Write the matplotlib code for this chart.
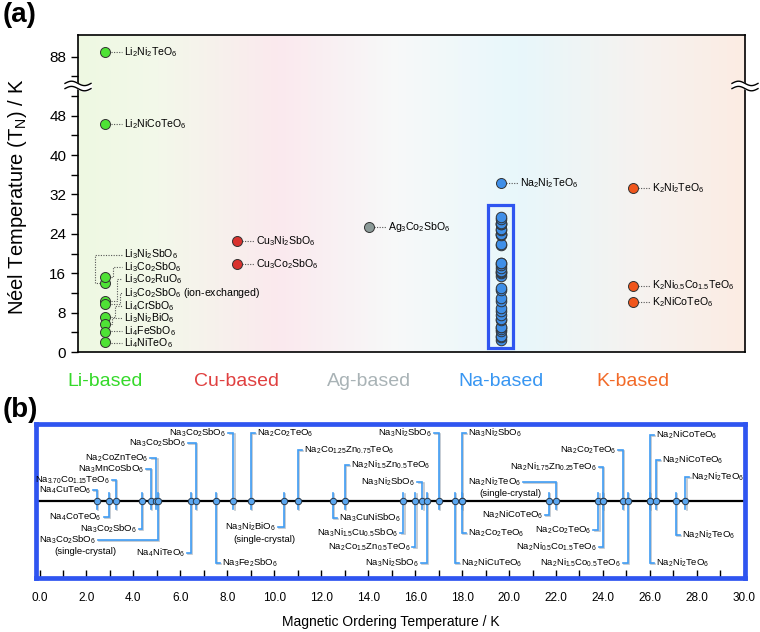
import re
import numpy as np
import matplotlib
matplotlib.use('Agg')
import matplotlib.pyplot as plt
import matplotlib.patheffects as pe
from matplotlib.colors import LinearSegmentedColormap
from matplotlib.patches import Rectangle

plt.rcParams['font.family'] = ['Liberation Sans', 'DejaVu Sans']
plt.rcParams['mathtext.fontset'] = 'custom'
plt.rcParams['mathtext.rm'] = 'Liberation Sans'
plt.rcParams['mathtext.it'] = 'Liberation Sans:italic'
plt.rcParams['mathtext.bf'] = 'Liberation Sans:bold'

# ---- panel (a) data ----
groups = ['Li-based', 'Cu-based', 'Ag-based', 'Na-based', 'K-based']
group_colors = ['#35d92a', '#e04040', '#a9b3b6', '#3896f2', '#f26a28']
dot_colors = ['#4ee235', '#d9322e', '#8c9a98', '#3f8fe8', '#f0561c']

li_names = ['Li2Ni2TeO6', 'Li2NiCoTeO6', 'Li3Ni2SbO6', 'Li3Co2SbO6', 'Li3Co2RuO6',
            'Li3Co2SbO6 (ion-exchanged)', 'Li4CrSbO6', 'Li3Ni2BiO6', 'Li4FeSbO6', 'Li4NiTeO6']
li_tn = [89.0, 46.3, 14.0, 15.2, 10.4, 9.8, 7.2, 5.6, 4.0, 2.1]
cu_names = ['Cu3Ni2SbO6', 'Cu3Co2SbO6']
cu_tn = [22.6, 17.8]
ag_names = ['Ag3Co2SbO6']
ag_tn = [25.3]
na_top_names = ['Na2Ni2TeO6']
na_top_tn = [34.3]
k_names = ['K2Ni2TeO6', 'K2Ni0.5Co1.5TeO6', 'K2NiCoTeO6']
k_tn = [33.3, 13.5, 10.2]

# label placement for the crowded Li cluster (label height, elbow offset in px)
li_label_y = [None, None, 19.8, 17.2, 14.8, 11.9, 9.35, 6.9, 4.2, 1.9]
li_bend_px = [0, 0, -10, 8, 12, 15, 10, 7, 0, 0]

ytick_vals = [0, 8, 16, 24, 32, 40, 48, 88]

# ---- panel (b) data ----
na_names = ['Na4CuTeO6', 'Na4CoTeO6', 'Na3.70Co1.15TeO6', 'Na3Co2SbO6', 'Na3MnCoSbO6',
            'Na2CoZnTeO6', 'Na3Co2SbO6\n(single-crystal)', 'Na4NiTeO6', 'Na3Co2SbO6',
            'Na3Fe2SbO6', 'Na3Co2SbO6', 'Na2Co2TeO6', 'Na3Ni2BiO6\n(single-crystal)',
            'Na2Co1.25Zn0.75TeO6', 'Na3CuNiSbO6', 'Na2Ni1.5Zn0.5TeO6', 'Na3Ni1.5Cu0.5SbO6',
            'Na2Co1.5Zn0.5TeO6', 'Na3Ni2SbO6', 'Na3Ni2SbO6', 'Na3Ni2SbO6', 'Na2NiCuTeO6',
            'Na3Ni2SbO6', 'Na2Co2TeO6', 'Na2NiCoTeO6', 'Na2Ni2TeO6\n(single-crystal)',
            'Na2Co2TeO6', 'Na2Ni1.75Zn0.25TeO6', 'Na2Ni0.5Co1.5TeO6', 'Na2Co2TeO6',
            'Na2Ni1.5Co0.5TeO6', 'Na2NiCoTeO6', 'Na2Ni2TeO6', 'Na2NiCoTeO6', 'Na2Ni2TeO6',
            'Na2Ni2TeO6']
na_tn = [2.45, 2.95, 3.25, 4.35, 4.75, 4.98, 5.05, 6.45, 6.65, 7.5, 8.25, 9.0, 10.4, 11.0,
         12.5, 13.0, 15.5, 16.0, 16.3, 16.5, 17.0, 17.7, 18.0, 18.0, 21.7, 22.0, 23.8, 24.0,
         24.0, 24.85, 25.05, 26.0, 26.0, 26.25, 27.1, 27.5]
# layout: label height (px from the line), side of the bracket, horizontal stub (px)
na_level = [11, -16, 21, -28, 32, 43, -39, -52, 58, -62, 68, 68, -26, 51, -17, 36, -32, -46,
            19, -62, 68, -62, 68, -32, -14, 19, -29, 34, -46, 51, -62, 66, -62, 41, -34, 24]
na_side = 'LLLLLLLLLRLRLRRRLLLLLRRRLLLLLLLRRRRR'
na_stub = [4, 5, 4, 3, 5, 6, 60, 4, 8, 4, 5, 4, 6, 4, 4, 4, 3, 3, 5, 6, 5, 4, 4, 4, 4, 33,
           5, 4, 4, 5, 5, 4, 4, 4, 4, 4]


def chem(s):
    return re.sub(r'(\d+(?:\.\d+)?)', r'$_{\1}$', s)


def pos(v):
    # broken axis: values above the break are shifted down
    return v if v <= 52 else v - 28


fig = plt.figure(figsize=(7.6, 6.32), dpi=100)

# ================= panel (a) =================
ax = fig.add_axes([78 / 760, 1 - 352 / 632, 667 / 760, 317 / 632])
xmin, xmax, ymax = -0.205, 4.85, 64.4
pxx = (xmax - xmin) / 667

bg = LinearSegmentedColormap.from_list('bg', [
    (0.0, '#eef9e2'), (0.12, '#f3f8ea'), (0.30, '#fbe9ee'), (0.48, '#f7f9f9'),
    (0.66, '#e8f7fb'), (0.85, '#f6f2ef'), (1.0, '#fcece3')])
ax.imshow(np.linspace(0, 1, 256)[None, :], extent=[xmin, xmax, 0, ymax], aspect='auto',
          cmap=bg, zorder=0)

leader = dict(color='#555555', lw=0.8, ls=(0, (1, 1.3)), zorder=2)
dot_kw = dict(ms=7.2, mec='#333333', mew=0.7, zorder=4, ls='none', marker='o')
fs_a = 7.6


def simple_points(gx, names, vals, color):
    for n, v in zip(names, vals):
        y = pos(v)
        ax.plot([gx + 5.5 * pxx, gx + 17 * pxx], [y, y], **leader)
        ax.text(gx + 19 * pxx, y, chem(n), fontsize=fs_a, va='center', ha='left', zorder=5)
    ax.plot([gx] * len(vals), [pos(v) for v in vals], mfc=color, **dot_kw)


# Li cluster with elbow leaders
for n, v, ly, b in zip(li_names, li_tn, li_label_y, li_bend_px):
    y = pos(v)
    ly = y if ly is None else ly
    if b == 0:
        xs, ys = [5.5, 17], [y, ly]
    elif b < 0:
        xs, ys = [-5.5, b, b, 17], [y, y, ly, ly]
    else:
        xs, ys = [5.5, b, b, 17], [y, y, ly, ly]
    if b == 0:
        ax.plot([5.5 * pxx, 17 * pxx], [ly, ly], **leader)
    else:
        ax.plot([x * pxx for x in xs], ys, **leader)
    ax.text(19 * pxx, ly, chem(n), fontsize=fs_a, va='center', ha='left', zorder=5)
ax.plot([0] * len(li_tn), [pos(v) for v in li_tn], mfc=dot_colors[0], **dot_kw)

simple_points(1, cu_names, cu_tn, dot_colors[1])
simple_points(2, ag_names, ag_tn, dot_colors[2])
simple_points(3, na_top_names, na_top_tn, dot_colors[3])
simple_points(4, k_names, k_tn, dot_colors[4])

# Na column = all entries of panel (b)
ax.plot([3] * len(na_tn), na_tn, mfc=dot_colors[3], **dict(dot_kw, ms=7.6))
ax.add_patch(Rectangle((3 - 0.095, 0.8), 0.19, 29.0, fill=False, ec='#2f55f0', lw=2.3,
                       zorder=5))

ax.set_xlim(xmin, xmax)
ax.set_ylim(0, ymax)
ax.set_yticks([pos(v) for v in ytick_vals])
ax.set_yticklabels([str(v) for v in ytick_vals])
ax.set_yticks([4, 12, 20, 28, 36, 44, 52, 56], minor=True)
ax.tick_params(axis='y', which='both', direction='out', length=5, width=1, labelsize=11)
ax.set_xticks(range(5))
ax.set_xticklabels(groups, fontsize=14)
for lab, c in zip(ax.get_xticklabels(), group_colors):
    lab.set_color(c)
ax.tick_params(axis='x', length=0, pad=15)
for s in ax.spines.values():
    s.set_linewidth(1.2)
ax.set_ylabel('Néel Temperature (T$_\\mathrm{N}$) / K', fontsize=14.5)
ax.yaxis.set_label_coords(-0.074, 0.49)


def axis_break(xc):
    t = np.linspace(0, 1, 60)
    x = xc + (t - 0.5) * 26 / 667
    yc = 1 - (86 - 35) / 317
    w = 2.2 / 317 * np.sin(2 * np.pi * t)
    y1 = yc + 2.6 / 317 + w
    y2 = yc - 2.6 / 317 + w
    ax.fill_between(x, y2, y1, color='white', transform=ax.transAxes, clip_on=False,
                    zorder=10)
    ax.plot(x, y1, color='black', lw=1, transform=ax.transAxes, clip_on=False, zorder=11)
    ax.plot(x, y2, color='black', lw=1, transform=ax.transAxes, clip_on=False, zorder=11)


axis_break(0.0)
axis_break(1.0)

# ================= panel (b) =================
ax2 = fig.add_axes([36 / 760, 1 - 578 / 632, 709 / 760, 154 / 632])
x0, x1 = -0.15, 30.05
pxk = (x1 - x0) / 709
ax2.set_xlim(x0, x1)
ax2.set_ylim(-77, 77)
ax2.axhline(0, color='black', lw=1.6, zorder=2)

shadow = [pe.SimpleLineShadow(offset=(1, -1), shadow_color='#7a8a99', alpha=0.5), pe.Normal()]
for t, name, lv, side, stub in zip(na_tn, na_names, na_level, na_side, na_stub):
    sgn = 1 if lv > 0 else -1
    sx = -1 if side == 'L' else 1
    ax2.plot([t + sx * stub * pxk, t, t], [lv, lv, -sgn * 8], color='#3f9cf4', lw=1.2,
             zorder=3, solid_joinstyle='miter', path_effects=shadow)
    first, *rest = name.split('\n')
    tx = t + sx * (stub + 2) * pxk
    ax2.text(tx, lv, chem(first), fontsize=6.8, va='center',
             ha='right' if side == 'L' else 'left', zorder=5)
    if rest:
        ax2.text(tx + 20 * pxk, lv - 12, rest[0], fontsize=6.8, va='center', ha='right',
                 zorder=5)

ax2.plot(na_tn, [0] * len(na_tn), ls='none', marker='o', ms=4.6, mfc='#5aa6f0',
         mec='#2b3a4a', mew=0.7, zorder=6)

ax2.set_yticks([])
ax2.set_xticks(np.arange(0, 31, 2))
ax2.set_xticklabels(['%.1f' % v for v in np.arange(0, 31, 2)])
ax2.set_xticks(np.arange(1, 30, 2), minor=True)
ax2.tick_params(axis='x', which='both', direction='in', length=6, width=1, pad=10,
                labelsize=8.5)
for s in ax2.spines.values():
    s.set_color('#2f55f0')
    s.set_linewidth(3.4)
ax2.set_xlabel('Magnetic Ordering Temperature / K', fontsize=10, labelpad=8)

fig.text(0.004, 0.997, '(a)', fontsize=20, fontweight='bold', va='top', ha='left')
fig.text(0.004, 0.372, '(b)', fontsize=20, fontweight='bold', va='top', ha='left')

fig.savefig('out.png', dpi=100)
